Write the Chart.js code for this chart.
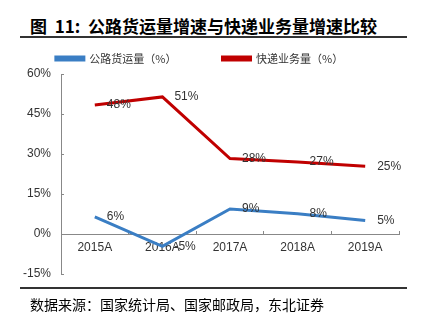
<!DOCTYPE html>
<html>
<head>
<meta charset="utf-8">
<script src="https://cdn.jsdelivr.net/npm/chart.js@4/dist/chart.umd.min.js"></script>
<style>
	body { margin: 0; background: #fff; }
	#wrap { position: relative; width: 422px; height: 323px; overflow: hidden; }
	#title { position: absolute; left: 30px; top: 13px; font: bold 17px "Noto Sans CJK SC", sans-serif; color: #000; white-space: pre; }
	#rule1 { position: absolute; left: 20px; top: 36px; width: 387px; height: 2px; background: #333; }
	#rule2 { position: absolute; left: 20px; top: 287px; width: 387px; height: 2px; background: #333; }
	#source { position: absolute; left: 30px; top: 294px; font: 14px "Noto Sans CJK SC", sans-serif; color: #000; white-space: nowrap; }
	canvas { position: absolute; left: 0; top: 0; }
</style>
</head>
<body>
<div id="wrap">
	<div id="title">图  11:  公路货运量增速与快递业务量增速比较</div>
	<div id="rule1"></div>
	<canvas id="c" width="422" height="323"></canvas>
	<div id="rule2"></div>
	<div id="source">数据来源：国家统计局、国家邮政局，东北证券</div>
</div>
<script>
// categories and series
const years		= ['2015A', '2016A', '2017A', '2018A', '2019A'];
const roadFreight	= [6.4, -4.6, 9.4, 7.6, 5.1];
const express		= [48.4, 51.4, 28.3, 27.0, 25.4];
const seriesNames	= ['公路货运量（%）', '快递业务量（%）'];
const yTicks		= [-15, 0, 15, 30, 45, 60];

const FONT = '"Liberation Sans", Arial, sans-serif';

// value labels right of each point
const pointLabels = {
	id: 'pointLabels',
	afterDatasetsDraw(chart) {
		const ctx = chart.ctx;
		ctx.save();
		ctx.font = '12px ' + FONT;
		ctx.fillStyle = '#333';
		ctx.textAlign = 'left';
		ctx.textBaseline = 'middle';
		chart.data.datasets.forEach(function(ds, i) {
			let meta = chart.getDatasetMeta(i);
			meta.data.forEach(function(pt, j) {
				ctx.fillText(Math.round(ds.data[j]) + '%', pt.x + 12, pt.y);
			});
		});
		ctx.restore();
	}
};

new Chart(document.getElementById('c'), {
	type: 'line',
	data: {
		labels: years,
		datasets: [
			{ label: seriesNames[0], data: roadFreight, borderColor: '#3a7ec4', backgroundColor: '#3a7ec4', borderWidth: 3, pointRadius: 0, tension: 0 },
			{ label: seriesNames[1], data: express, borderColor: '#c00000', backgroundColor: '#c00000', borderWidth: 3, pointRadius: 0, tension: 0 }
		]
	},
	options: {
		responsive: false,
		animation: false,
		layout: { padding: { top: 7, right: 23, bottom: 49, left: 0 } },
		plugins: {
			legend: {
				labels: { boxWidth: 28, boxHeight: 3, padding: 46, color: '#333', font: { size: 11, family: '"Noto Sans CJK SC", sans-serif' } }
			},
			tooltip: { enabled: false }
		},
		scales: {
			x: {
				position: { y: 0 },
				offset: true,
				grid: { offset: true, drawOnChartArea: false, tickLength: -4, color: '#888' },
				border: { color: '#888', width: 1 },
				ticks: { padding: 10, color: '#333', font: { size: 12, family: FONT } }
			},
			y: {
				min: -15, max: 60,
				afterBuildTicks(scale) { scale.ticks = yTicks.map(v => ({ value: v })); },
				afterFit(scale) { scale.width = 61; },
				grid: { drawOnChartArea: false, tickLength: -3, color: '#888' },
				border: { color: '#888', width: 1 },
				ticks: { padding: 13, color: '#333', font: { size: 12, family: FONT }, callback: v => v + '%' }
			}
		}
	},
	plugins: [pointLabels]
});
</script>
</body>
</html>
